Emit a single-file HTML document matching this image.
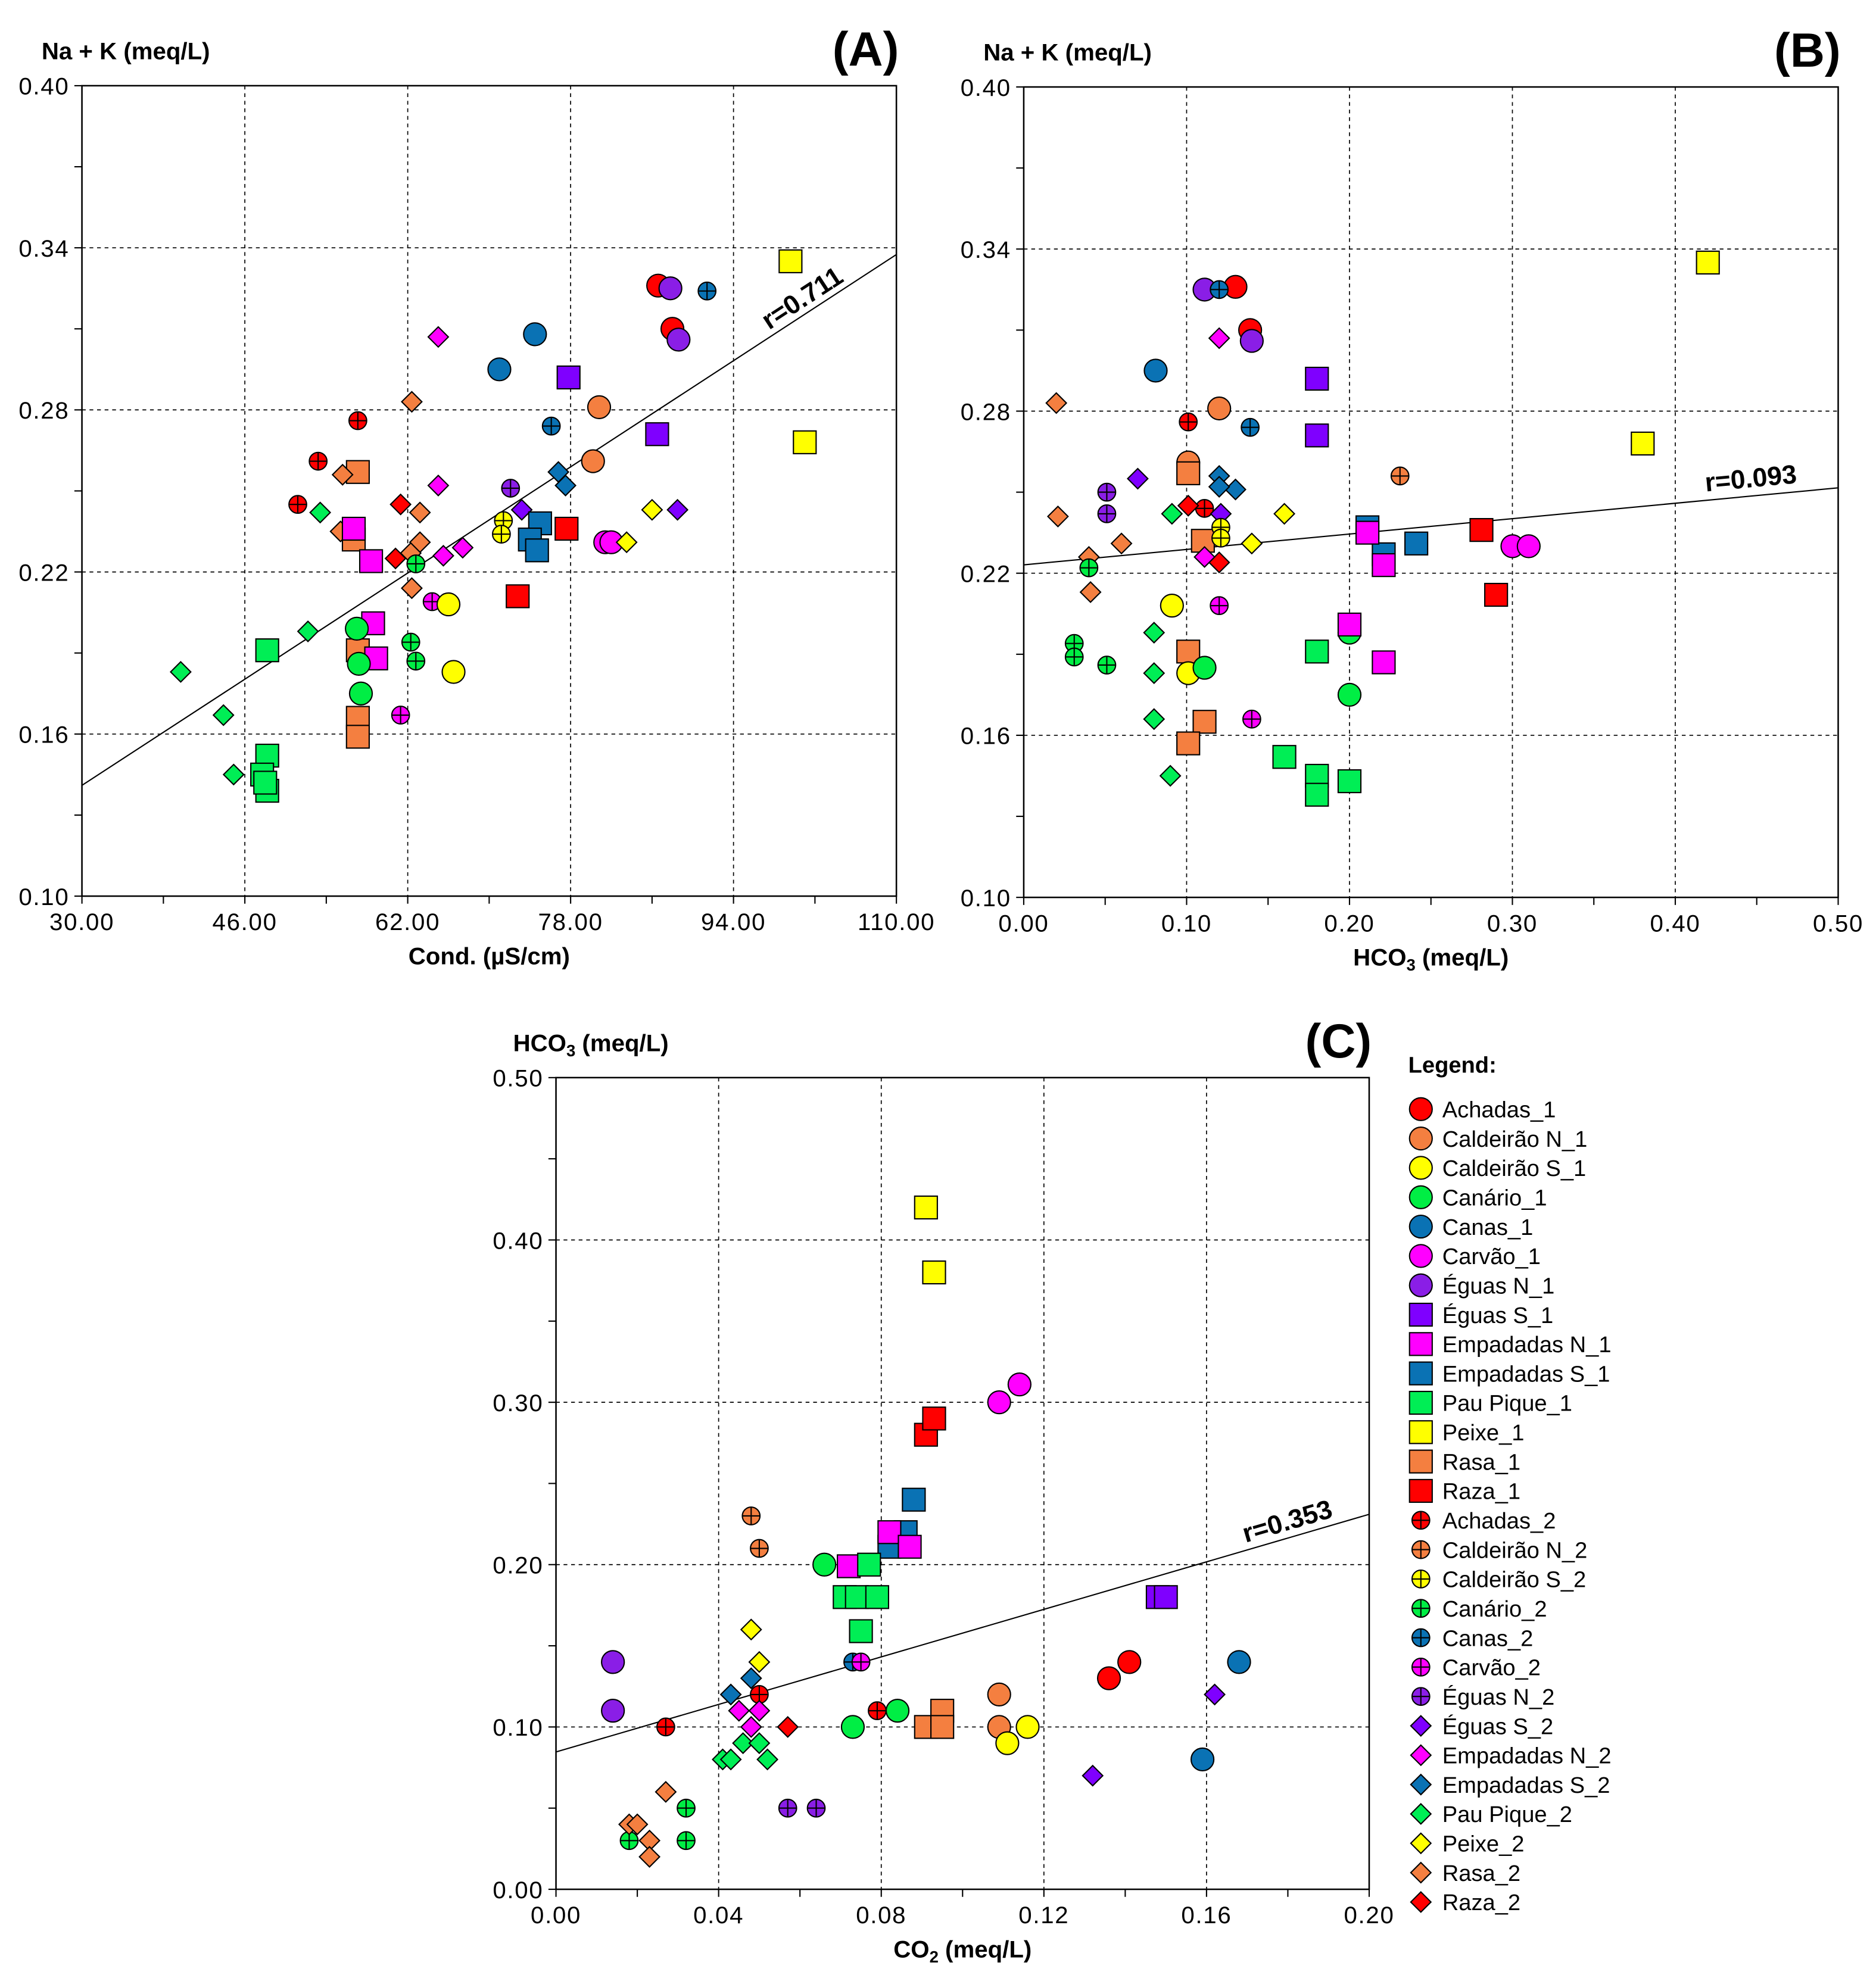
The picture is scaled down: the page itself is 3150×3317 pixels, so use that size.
<!DOCTYPE html>
<html><head><meta charset="utf-8"><style>
html,body{margin:0;padding:0;background:#fff}
svg{display:block}
text{font-family:"Liberation Sans",Arial,sans-serif;fill:#000}
</style></head><body>
<svg id="fig" xmlns="http://www.w3.org/2000/svg" width="3150" height="3317" viewBox="0 0 1488 1567" preserveAspectRatio="none"></svg>
<script>
// series definitions
const seriesNames=["Achadas_1","Caldeirão N_1","Caldeirão S_1","Canário_1","Canas_1","Carvão_1","Éguas N_1","Éguas S_1","Empadadas N_1","Empadadas S_1","Pau Pique_1","Peixe_1","Rasa_1","Raza_1","Achadas_2","Caldeirão N_2","Caldeirão S_2","Canário_2","Canas_2","Carvão_2","Éguas N_2","Éguas S_2","Empadadas N_2","Empadadas S_2","Pau Pique_2","Peixe_2","Rasa_2","Raza_2"];
const seriesColors=["#ff0000","#f47f40","#ffff00","#00ee44","#0a72b4","#ff00ff","#8a1ee6","#7f00ff","#ff00ff","#0a72b4","#00ee55","#ffff00","#f47f40","#ff0000","#ff0000","#f47f40","#ffff00","#00ee44","#0a72b4","#ff00ff","#8a1ee6","#7f00ff","#ff00ff","#0a72b4","#00ee55","#ffff00","#f47f40","#ff0000"];
const seriesShapes=["c","c","c","c","c","c","c","s","s","s","s","s","s","s","p","p","p","p","p","p","p","d","d","d","d","d","d","d"];

// Panel A: Cond vs Na+K
const aSeries=[0,0,6,6,18,18,11,11,4,4,7,7,1,1,22,26,14,14,14,12,12,12,12,12,26,26,26,26,26,26,8,8,8,8,22,22,22,20,21,21,27,27,17,17,17,3,3,3,19,19,2,2,16,16,9,9,9,13,13,23,23,5,5,25,25,24,24,24,24,24,10,10,10,10,10];
const aX=[86.6,88.0,87.8,88.6,91.4,76.1,99.6,101.0,74.5,71.0,77.8,86.5,80.8,80.2,65.0,62.4,57.1,53.2,51.2,57.1,56.7,57.1,57.1,57.1,55.6,55.4,63.2,63.2,62.3,62.4,56.7,58.4,58.6,58.9,65.0,65.5,67.4,72.1,73.2,88.5,61.3,60.8,62.8,62.3,62.8,57.0,57.2,57.4,64.4,61.3,66.0,66.5,71.4,71.2,75.0,74.0,74.7,77.6,72.8,76.8,77.5,81.4,82.0,86.0,83.5,39.7,43.9,44.9,53.4,52.2,48.2,48.2,47.7,48.2,48.0];
const aY=[0.326,0.310,0.325,0.306,0.324,0.274,0.335,0.268,0.308,0.295,0.292,0.271,0.281,0.261,0.307,0.283,0.276,0.261,0.245,0.257,0.232,0.191,0.166,0.159,0.256,0.235,0.242,0.231,0.227,0.214,0.236,0.224,0.201,0.188,0.252,0.226,0.229,0.251,0.243,0.243,0.245,0.225,0.223,0.194,0.187,0.199,0.186,0.175,0.209,0.167,0.208,0.183,0.239,0.234,0.238,0.232,0.228,0.236,0.211,0.257,0.252,0.231,0.231,0.243,0.231,0.183,0.167,0.145,0.242,0.198,0.191,0.152,0.145,0.139,0.142];
const aLine=[0.141,0.3375];

// Panel B: HCO3 vs Na+K
const bSeries=[11,11,0,0,6,6,18,18,22,4,7,7,1,1,26,26,26,26,26,15,14,14,12,12,12,12,12,20,20,21,21,23,23,23,27,27,16,16,25,25,24,24,24,24,24,17,17,17,17,22,19,19,2,2,3,3,3,9,9,9,8,8,8,8,13,13,5,5,10,10,10,10,10];
const bX=[0.420,0.380,0.130,0.139,0.111,0.140,0.120,0.139,0.120,0.081,0.180,0.180,0.120,0.101,0.020,0.021,0.040,0.041,0.060,0.231,0.101,0.111,0.101,0.110,0.101,0.111,0.101,0.051,0.051,0.070,0.121,0.120,0.130,0.120,0.101,0.120,0.121,0.121,0.160,0.140,0.091,0.080,0.080,0.080,0.090,0.040,0.031,0.031,0.051,0.111,0.120,0.140,0.091,0.101,0.111,0.200,0.200,0.211,0.221,0.241,0.211,0.221,0.200,0.221,0.281,0.290,0.300,0.310,0.180,0.160,0.180,0.180,0.200];
const bY=[0.335,0.268,0.326,0.310,0.325,0.306,0.325,0.274,0.307,0.295,0.292,0.271,0.281,0.261,0.283,0.241,0.226,0.213,0.231,0.256,0.276,0.244,0.257,0.232,0.191,0.165,0.157,0.250,0.242,0.255,0.242,0.256,0.251,0.252,0.245,0.224,0.237,0.233,0.242,0.231,0.242,0.198,0.183,0.166,0.145,0.222,0.194,0.189,0.186,0.226,0.208,0.166,0.208,0.183,0.185,0.198,0.175,0.237,0.227,0.231,0.235,0.223,0.201,0.187,0.236,0.212,0.230,0.230,0.191,0.152,0.145,0.138,0.143];
const bLine=[0.2231,0.2516];

// Panel C: CO2 vs HCO3
const cSeries=[11,11,5,5,13,13,9,9,9,8,8,8,15,15,3,3,3,10,10,10,10,10,7,7,0,0,4,4,21,21,6,6,1,1,2,2,12,12,12,18,23,23,19,25,25,14,14,14,22,22,22,27,24,24,24,24,24,20,20,17,17,17,26,26,26,26,26];
const cX=[0.091,0.093,0.109,0.114,0.091,0.093,0.088,0.086,0.082,0.082,0.087,0.072,0.048,0.050,0.066,0.073,0.084,0.077,0.071,0.074,0.079,0.075,0.148,0.150,0.136,0.141,0.168,0.159,0.162,0.132,0.014,0.014,0.109,0.109,0.111,0.116,0.091,0.095,0.095,0.073,0.043,0.048,0.075,0.048,0.050,0.027,0.050,0.079,0.045,0.050,0.048,0.057,0.041,0.043,0.046,0.050,0.052,0.057,0.064,0.032,0.032,0.018,0.027,0.018,0.020,0.023,0.023];
const cY=[0.420,0.380,0.300,0.311,0.280,0.290,0.240,0.220,0.211,0.220,0.211,0.199,0.230,0.210,0.200,0.100,0.110,0.200,0.180,0.180,0.180,0.159,0.180,0.180,0.130,0.140,0.140,0.080,0.120,0.070,0.140,0.110,0.120,0.100,0.090,0.100,0.100,0.110,0.100,0.140,0.120,0.130,0.140,0.160,0.140,0.100,0.120,0.110,0.110,0.110,0.100,0.100,0.080,0.080,0.090,0.090,0.080,0.050,0.050,0.050,0.030,0.030,0.060,0.040,0.040,0.030,0.020];
const cLine=[0.0846,0.231];

const aXTicks=["30.00","46.00","62.00","78.00","94.00","110.00"];
const aYTicks=["0.10","0.16","0.22","0.28","0.34","0.40"];
const bXTicks=["0.00","0.10","0.20","0.30","0.40","0.50"];
const cXTicks=["0.00","0.04","0.08","0.12","0.16","0.20"];
const cYTicks=["0.00","0.10","0.20","0.30","0.40","0.50"];

const NS="http://www.w3.org/2000/svg";
const svg=document.getElementById('fig');
function el(tag,attrs,parent){const e=document.createElementNS(NS,tag);for(const k in attrs)e.setAttribute(k,attrs[k]);(parent||svg).appendChild(e);return e;}
function txt(s,attrs,parent){const t=el('text',attrs,parent);t.textContent=s;return t;}

function marker(g,shape,color,cx,cy,scale){
  const s=scale||1;let m;
  if(shape==='c'){m=el('circle',{cx:cx,cy:cy,r:9*s,fill:color,stroke:'#000','stroke-width':1},g);}
  else if(shape==='s'){m=el('rect',{x:cx-9*s,y:cy-9*s,width:18*s,height:18*s,fill:color,stroke:'#000','stroke-width':1},g);}
  else if(shape==='p'){m=el('g',{},g);el('circle',{cx:cx,cy:cy,r:7*s,fill:color,stroke:'#000','stroke-width':1},m);
    el('path',{d:`M${cx-7*s} ${cy}H${cx+7*s}M${cx} ${cy-7*s}V${cy+7*s}`,stroke:'#000','stroke-width':1},m);}
  else {m=el('path',{d:`M${cx} ${cy-8*s}L${cx+8*s} ${cy}L${cx} ${cy+8*s}L${cx-8*s} ${cy}Z`,fill:color,stroke:'#000','stroke-width':1},g);}
  return m;
}

function panel(o){
  const g=el('g',{});
  
  
  const X=v=>o.x0+(v-o.xmin)/(o.xmax-o.xmin)*(o.x1-o.x0);
  const Y=v=>o.y1-(v-o.ymin)/(o.ymax-o.ymin)*(o.y1-o.y0);
  const nx=o.xt.length-1, ny=o.yt.length-1;
  for(let i=1;i<nx;i++){const v=o.xmin+i*(o.xmax-o.xmin)/nx;const l=el('line',{x1:X(v),x2:X(v),y1:o.y0,y2:o.y1,stroke:'#000','stroke-width':0.8,'stroke-dasharray':'3,3'},g);}
  for(let i=1;i<ny;i++){const v=o.ymin+i*(o.ymax-o.ymin)/ny;const l=el('line',{y1:Y(v),y2:Y(v),x1:o.x0,x2:o.x1,stroke:'#000','stroke-width':0.8,'stroke-dasharray':'3,3'},g);}
  for(let i=0;i<=nx*2;i++){const v=o.xmin+i*(o.xmax-o.xmin)/(nx*2);el('line',{x1:X(v),x2:X(v),y1:o.y1,y2:o.y1+6,stroke:'#000','stroke-width':1},g);}
  for(let i=0;i<=ny*2;i++){const v=o.ymin+i*(o.ymax-o.ymin)/(ny*2);el('line',{y1:Y(v),y2:Y(v),x1:o.x0-6,x2:o.x0,stroke:'#000','stroke-width':1},g);}
  o.xt.forEach((s,i)=>{const v=o.xmin+i*(o.xmax-o.xmin)/nx;const t=txt(s,{x:X(v),y:o.y1+27,'text-anchor':'middle','font-size':19,'letter-spacing':0.8},g);});
  o.yt.forEach((s,i)=>{const v=o.ymin+i*(o.ymax-o.ymin)/ny;const t=txt(s,{x:o.x0-10,y:Y(v)+7,'text-anchor':'end','font-size':19,'letter-spacing':0.8},g);});
  const fr=el('rect',{x:o.x0,y:o.y0,width:o.x1-o.x0,height:o.y1-o.y0,fill:'none',stroke:'#000','stroke-width':1.2},g);
  
  const rl=el('line',{x1:X(o.xmin),y1:Y(o.line[0]),x2:X(o.xmax),y2:Y(o.line[1]),stroke:'#000','stroke-width':1},g);
  
  const ang=Math.atan2(Y(o.line[1])-Y(o.line[0]),X(o.xmax)-X(o.xmin))*180/Math.PI;
  const rt=txt(o.r,{x:o.rx,y:o.ry,'font-size':21,'font-weight':'bold',transform:`rotate(${ang} ${o.rx} ${o.ry})`},g);
  
  o.s.forEach((si,i)=>{const m=marker(g,seriesShapes[si],seriesColors[si],X(o.xs[i]),Y(o.ys[i]));
    
    });
  const yt=txt(o.ytitle,{x:o.ytx,y:o.yty,'font-size':19,'font-weight':'bold'},g);
  const xt=el('text',{x:(o.x0+o.x1)/2,y:o.y1+54,'font-size':19,'font-weight':'bold','text-anchor':'middle'},g);
  xt.innerHTML=o.xtitle;
  if(o.ytitleHtml){yt.innerHTML=o.ytitleHtml;}
  const lt=txt(o.letter,{x:o.x1+2,y:o.y0-16,'font-size':38,'font-weight':'bold','text-anchor':'end'},g);
  
}

panel({name:'panel-a',x0:65,x1:711,y0:68,y1:711,xmin:30,xmax:110,ymin:0.10,ymax:0.40,xt:aXTicks,yt:aYTicks,s:aSeries,xs:aX,ys:aY,line:aLine,r:'r=0.711',rx:610,ry:262,ytitle:'Na + K (meq/L)',ytx:33,yty:47,xtitle:'Cond. (µS/cm)',letter:'(A)'});
panel({name:'panel-b',x0:812,x1:1458,y0:69,y1:712,xmin:0,xmax:0.5,ymin:0.10,ymax:0.40,xt:bXTicks,yt:aYTicks,s:bSeries,xs:bX,ys:bY,line:bLine,r:'r=0.093',rx:1353,ry:390,ytitle:'Na + K (meq/L)',ytx:780,yty:48,xtitle:'HCO<tspan font-size="13" dy="4">3</tspan><tspan dy="-4"> (meq/L)</tspan>',letter:'(B)'});
panel({name:'panel-c',x0:441,x1:1086,y0:855,y1:1499,xmin:0,xmax:0.2,ymin:0,ymax:0.5,xt:cXTicks,yt:cYTicks,s:cSeries,xs:cX,ys:cY,line:cLine,r:'r=0.353',rx:988,ry:1224,ytitle:'HCO3 (meq/L)',ytitleHtml:'HCO<tspan font-size="13" dy="4">3</tspan><tspan dy="-4"> (meq/L)</tspan>',ytx:407,yty:834,xtitle:'CO<tspan font-size="13" dy="4">2</tspan><tspan dy="-4"> (meq/L)</tspan>',letter:'(C)'});

const lg=el('g',{});


const lh=txt('Legend:',{x:1117,y:851,'font-size':18,'font-weight':'bold'},lg);


seriesNames.forEach((n,i)=>{
  const cy=880+i*23.3;
  const e=el('g',{},lg);
  
  
  marker(e,seriesShapes[i],seriesColors[i],1127,cy,1.0);
  txt(n,{x:1144,y:cy+6.5,'font-size':18},e);
});
</script>
</body></html>
